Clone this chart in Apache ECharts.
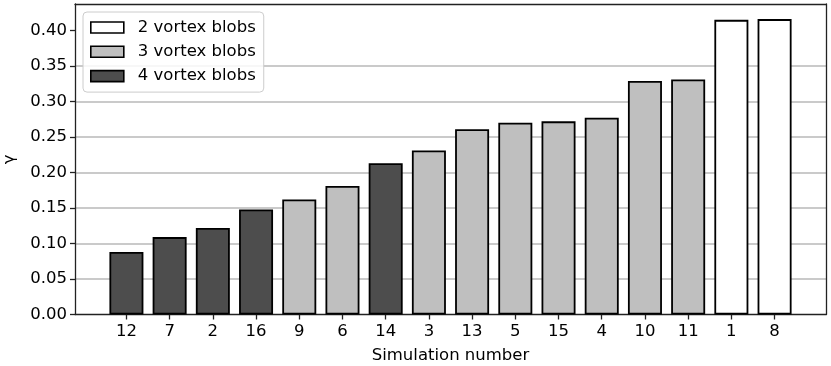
<!DOCTYPE html>
<html>
<head>
<meta charset="utf-8">
<script src="https://cdn.jsdelivr.net/npm/echarts@6/dist/echarts.min.js"></script>
<style>
  html, body { margin: 0; padding: 0; background: #fff; }
  #chart { width: 831px; height: 366px; }
</style>
</head>
<body>
<div id="chart"></div>
<script>
// simulation numbers, sorted by gamma
var sims = ['12', '7', '2', '16', '9', '6', '14', '3', '13', '5', '15', '4', '10', '11', '1', '8'];
var gammaVals = [0.088, 0.109, 0.122, 0.148, 0.162, 0.181, 0.213, 0.231, 0.261, 0.270, 0.272, 0.277, 0.329, 0.331, 0.415, 0.416];
var blobs = [4, 4, 4, 4, 3, 3, 4, 3, 3, 3, 3, 3, 3, 3, 2, 2];
var groups = [2, 3, 4];
var groupNames = ['2 vortex blobs', '3 vortex blobs', '4 vortex blobs'];
var groupColors = ['#ffffff', '#bfbfbf', '#4d4d4d'];
var yTicks = [0, 0.05, 0.10, 0.15, 0.20, 0.25, 0.30, 0.35, 0.40];

var font = 'DejaVu Sans';
var xTicks = sims.map(function (s, i) { return i; });

var myChart = echarts.init(document.getElementById('chart'));

var series = groups.map(function (g, k) {
    var data = [];
    for (var i = 0; i < sims.length; i++) {
        if (blobs[i] === g) data.push([i, gammaVals[i]]);
    }
    return {
        name: groupNames[k],
        type: 'bar',
        barWidth: 34,
        barGap: '-100%',
        itemStyle: {
            color: groupColors[k],
            borderColor: '#000',
            borderWidth: 1.8
        },
        data: data
    };
});

var frameLine = { show: true, onZero: false, lineStyle: { color: '#222', width: 1.3 } };

var option = {
    animation: false,
    grid: {
        left: 75,
        right: 5,
        top: 4,
        bottom: 51.5,
        outerBoundsMode: 'none'
    },
    legend: {
        orient: 'vertical',
        left: 83,
        top: 12,
        icon: 'rect',
        itemWidth: 33,
        itemHeight: 11,
        itemGap: 6.3,
        padding: [6.5, 8, 7, 7],
        borderColor: '#cccccc',
        borderWidth: 1,
        borderRadius: 4,
        backgroundColor: 'rgba(255,255,255,0.85)',
        textStyle: {
            fontFamily: font,
            fontSize: 16.5,
            color: '#000',
            lineHeight: 18,
            padding: [0, 0, 0, 9]
        },
        data: groupNames.map(function (n, k) {
            return { name: n, itemStyle: { color: groupColors[k], borderColor: '#000', borderWidth: 1.6 } };
        })
    },
    xAxis: [
        {
            type: 'value',
            min: -1.19,
            max: 16.19,
            name: 'Simulation number',
            nameLocation: 'middle',
            nameGap: 33,
            nameTextStyle: { fontFamily: font, fontSize: 16.5, color: '#000' },
            axisLine: frameLine,
            axisTick: { show: true, length: 5, lineStyle: { color: '#222', width: 1.3 }, customValues: xTicks },
            axisLabel: {
                margin: 9,
                fontFamily: font,
                fontSize: 16.5,
                color: '#000',
                customValues: xTicks,
                formatter: function (v) { return sims[Math.round(v)]; }
            },
            splitLine: { show: false }
        },
        {
            type: 'value',
            position: 'top',
            min: -1.19,
            max: 16.19,
            axisLine: frameLine,
            axisTick: { show: false },
            axisLabel: { show: false },
            splitLine: { show: false }
        }
    ],
    yAxis: [
        {
            type: 'value',
            min: 0,
            max: 0.4373,
            interval: 0.05,
            name: 'γ',
            nameLocation: 'middle',
            nameGap: 57,
            nameTextStyle: { fontFamily: font, fontSize: 16.5, color: '#000' },
            axisLine: frameLine,
            axisTick: { show: true, length: 5, lineStyle: { color: '#222', width: 1.3 }, customValues: yTicks },
            axisLabel: {
                margin: 8,
                fontFamily: font,
                fontSize: 16.5,
                color: '#000',
                customValues: yTicks,
                formatter: function (v) { return v.toFixed(2); }
            },
            splitLine: {
                show: true,
                showMinLine: false,
                showMaxLine: false,
                lineStyle: { color: '#b8b8b8', width: 1.5 }
            }
        },
        {
            type: 'value',
            position: 'right',
            min: 0,
            max: 0.4373,
            axisLine: frameLine,
            axisTick: { show: false },
            axisLabel: { show: false },
            splitLine: { show: false }
        }
    ],
    series: series
};

myChart.setOption(option);
</script>
</body>
</html>
